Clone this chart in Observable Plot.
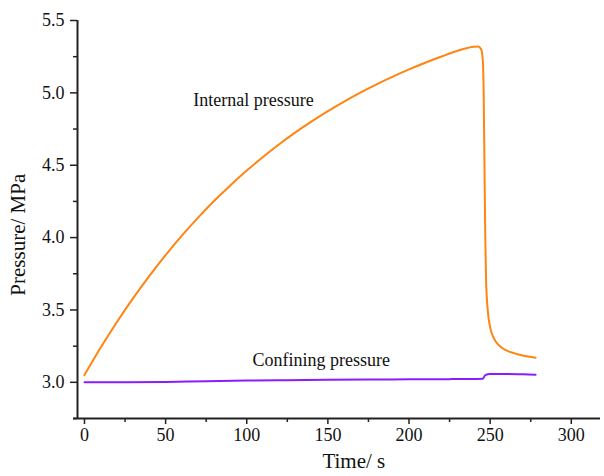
<!DOCTYPE html>
<html>
<head>
<meta charset="utf-8">
<script src="https://cdn.jsdelivr.net/npm/d3@7"></script>
<script src="https://cdn.jsdelivr.net/npm/@observablehq/plot@0.6"></script>
<style>
  html, body { margin: 0; padding: 0; background: #fff; }
  #chart svg { display: block; }
  #chart svg text { font-family: 'Liberation Serif', 'Times New Roman', serif; }
</style>
</head>
<body>
<div id="chart"></div>
<script>
// Internal pressure (MPa) vs time (s)
const internalTime = [0, 10, 20, 30, 40, 50, 60, 70, 80, 90, 100, 110, 120, 130, 140, 150, 160, 170, 180, 190, 200, 210, 220, 230, 236, 240, 242.5, 244.5, 245.5, 246, 246.5, 247, 247.5, 248.5, 250, 252, 255, 260, 265, 270, 278];
const internalValue = [3.050, 3.240, 3.417, 3.582, 3.736, 3.879, 4.013, 4.138, 4.254, 4.362, 4.463, 4.557, 4.645, 4.727, 4.803, 4.874, 4.940, 5.002, 5.059, 5.112, 5.162, 5.208, 5.251, 5.291, 5.310, 5.319, 5.320, 5.30, 5.22, 5.0, 4.5, 4.0, 3.70, 3.50, 3.38, 3.31, 3.26, 3.22, 3.20, 3.185, 3.17];

// Confining pressure (MPa) vs time (s)
const confiningTime = [0, 25, 50, 75, 100, 125, 150, 175, 200, 225, 245.5, 247, 250, 260, 270, 278];
const confiningValue = [3.00, 3.00, 3.002, 3.008, 3.012, 3.015, 3.017, 3.019, 3.021, 3.022, 3.025, 3.05, 3.057, 3.058, 3.055, 3.052];

const xMajorTicks = [0, 50, 100, 150, 200, 250, 300];
const xMinorTicks = [25, 75, 125, 175, 225, 275];
const yMajorTicks = [3.0, 3.5, 4.0, 4.5, 5.0, 5.5];
const yMinorTicks = [2.75, 3.25, 3.75, 4.25, 4.75, 5.25];

const xDomain = [-4.3, 318];
const yDomain = [2.75, 5.5];

const seriesLabels = [
  {name: "Internal pressure", t: 67, v: 4.95},
  {name: "Confining pressure", t: 103.5, v: 3.15}
];
const xTitle = "Time/ s";
const yTitle = "Pressure/ MPa";

const internal = internalTime.map((t, i) => ({t, v: internalValue[i]}));
const confining = confiningTime.map((t, i) => ({t, v: confiningValue[i]}));

const serif = "'Liberation Serif', 'Times New Roman', serif";
const axisColor = "#222";
const chart = Plot.plot({
  width: 604,
  height: 476,
  marginLeft: 77,
  marginRight: 4,
  marginTop: 20,
  marginBottom: 58,
  style: {fontFamily: serif, fontSize: "18px", color: "#111", background: "#fff"},
  x: {domain: xDomain},
  y: {domain: yDomain},
  marks: [
    Plot.axisX({ticks: xMajorTicks, tickSize: 6, tickPadding: 4, tickFormat: d3.format("d"), label: null, stroke: axisColor, strokeWidth: 1.5, fontSize: 18, fontFamily: serif}),
    Plot.axisX({ticks: xMinorTicks, tickSize: 4, tickFormat: () => "", label: null, stroke: axisColor, strokeWidth: 1.5}),
    Plot.axisY({ticks: yMajorTicks, tickSize: 7, tickPadding: 6, tickFormat: d3.format(".1f"), label: null, stroke: axisColor, strokeWidth: 1.5, fontSize: 18, fontFamily: serif}),
    Plot.axisY({ticks: yMinorTicks, tickSize: 4, tickFormat: () => "", label: null, stroke: axisColor, strokeWidth: 1.5}),
    Plot.ruleY([yDomain[0]], {stroke: axisColor, strokeWidth: 2, insetLeft: -4}),
    Plot.ruleX([xDomain[0]], {stroke: axisColor, strokeWidth: 2}),
    Plot.line(internal, {x: "t", y: "v", stroke: "#ff8410", strokeWidth: 2, curve: "monotone-x"}),
    Plot.line(confining, {x: "t", y: "v", stroke: "#8a1cff", strokeWidth: 2, curve: "monotone-x"}),
    Plot.text(seriesLabels, {x: "t", y: "v", text: "name", textAnchor: "start", fontSize: 18, fontFamily: serif, fill: "#111"}),
    Plot.text([xTitle], {frameAnchor: "bottom", x: 166, dy: 49, text: d => d, textAnchor: "middle", fontSize: 21, fontFamily: serif, fill: "#111"}),
    Plot.text([yTitle], {frameAnchor: "left", y: 4.02, dx: -59, rotate: -90, text: d => d, textAnchor: "middle", fontSize: 21, fontFamily: serif, fill: "#111"})
  ]
});
document.getElementById("chart").appendChild(chart);
</script>
</body>
</html>
